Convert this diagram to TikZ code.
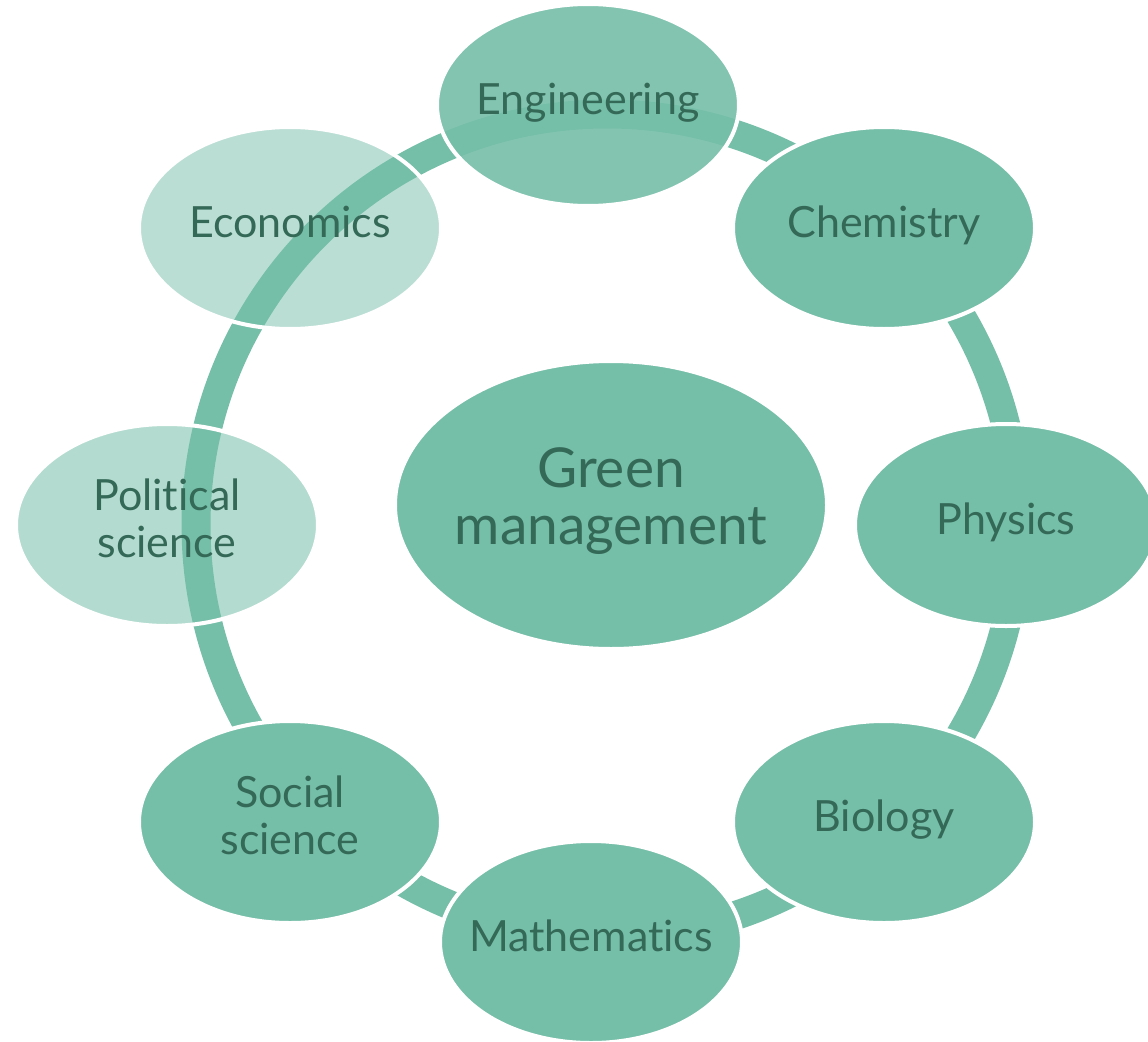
\documentclass[tikz,border=0pt]{standalone}
\usepackage{fontspec}
\setmainfont{Lato}[Ligatures=NoCommon]
\usetikzlibrary{shapes.geometric}

\definecolor{cyclegreen}{RGB}{117,190,168}
\definecolor{cycletext}{RGB}{52,104,87}

\begin{document}
\begin{tikzpicture}[x=1pt,y=-1pt,
    topic/.style={ellipse,fill=cyclegreen,draw=white,line width=4pt,
      minimum width=302pt,minimum height=202pt,inner xsep=-20pt,inner ysep=0pt,
      align=center,text=cycletext,text opacity=1,font=\fontsize{43}{47}\selectfont,
      execute at begin node=\strut,execute at end node=\strut},
    hubtopic/.style={topic,minimum width=432pt,minimum height=288pt,
      font=\fontsize{55}{57}\selectfont},
    cyclering/.style={draw=cyclegreen,line width=29pt}]

    \useasboundingbox (0,0) rectangle (1148,1041);
    \clip (0,0) rectangle (1148,1041);

    \coordinate (hub) at (607,525);
    \draw [cyclering] (hub) circle [radius=411];

    \node (green) [hubtopic] at (611,505) {Green\\management};

    \node (eng)  [topic,fill opacity=0.9]  at (588,105)  {Engineering};
    \node (chem) [topic]                   at (884,228)  {Chemistry};
    \node (phys) [topic]                   at (1006,525) {Physics};
    \node (bio)  [topic]                   at (884,822)  {Biology};
    \node (math) [topic]                   at (591,942)  {Mathematics};
    \node (soc)  [topic]                   at (290,822)  {Social\\science};
    \node (pol)  [topic,fill opacity=0.55] at (167,525)  {Political\\science};
    \node (eco)  [topic,fill opacity=0.5]  at (290,228)  {Economics};

\end{tikzpicture}
\end{document}
